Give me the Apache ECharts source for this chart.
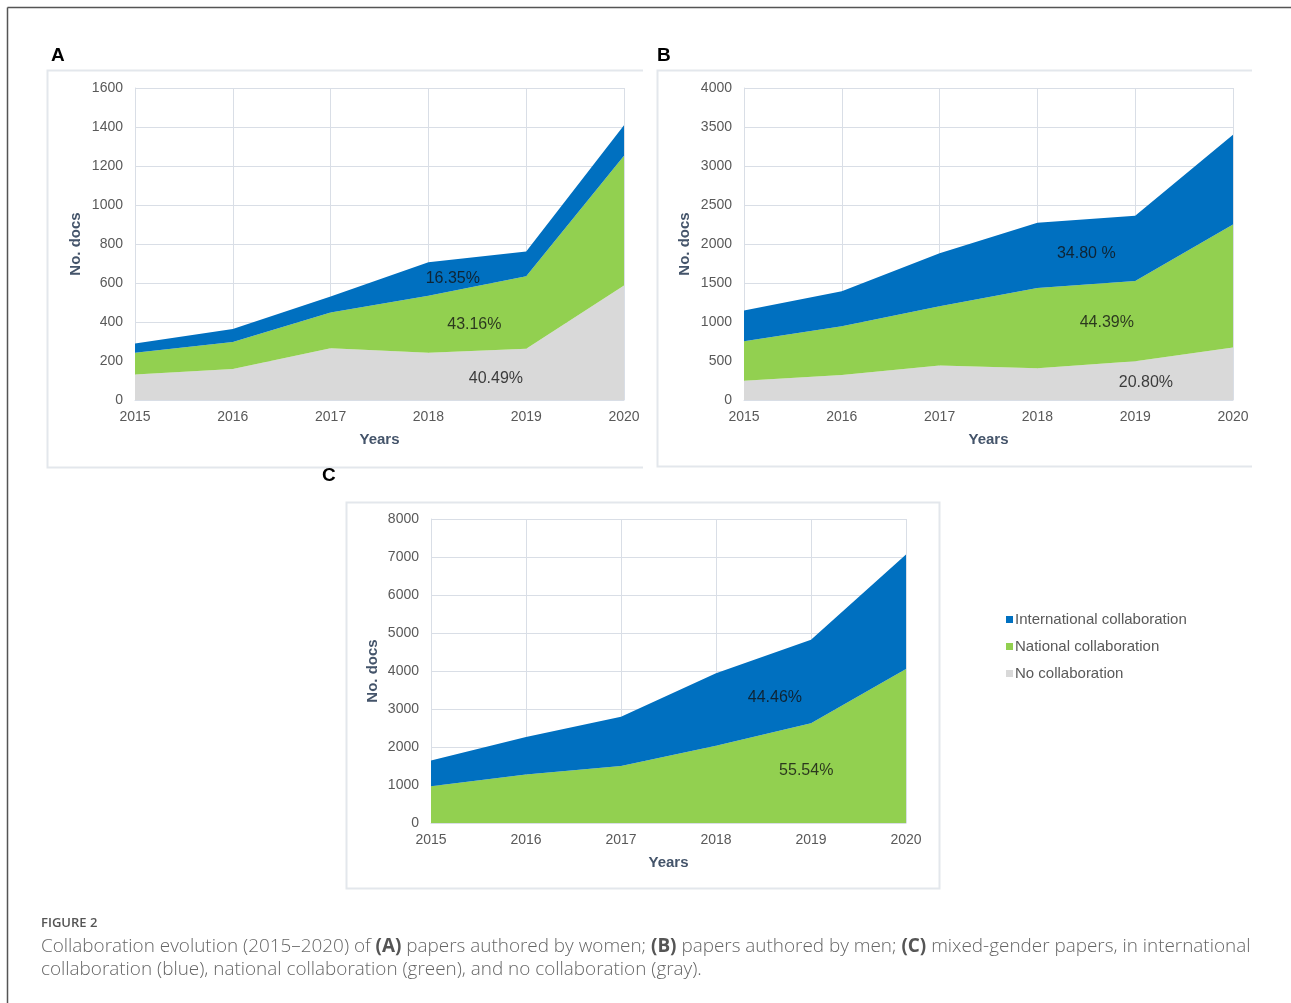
<!DOCTYPE html>
<html>
<head>
<meta charset="utf-8">
<script src="https://cdn.jsdelivr.net/npm/echarts@6/dist/echarts.min.js"></script>
<style>
html,body{margin:0;padding:0;background:#fff;}
#main{width:1291px;height:1003px;}
</style>
</head>
<body>
<div id="main"></div>
<script>
// ---- data ----
const years = ['2015','2016','2017','2018','2019','2020'];
// Panel A: papers authored by women
const aNone = [131, 159, 266, 242, 263, 587];
const aNational = [111, 138, 183, 292, 371, 665];
const aInternational = [48, 67, 82, 173, 128, 157];
// Panel B: papers authored by men
const bNone = [248, 321, 441, 406, 496, 672];
const bNational = [505, 624, 761, 1031, 1031, 1578];
const bInternational = [394, 450, 680, 835, 834, 1151];
// Panel C: mixed-gender papers
const cNational = [969, 1278, 1498, 2035, 2626, 4053];
const cInternational = [679, 986, 1295, 1903, 2194, 3013];
// Share labels [position along years (0 = 2015), value, text]
const aShares = [[3.25, 621, '16.35%'], [3.47, 387, '43.16%'], [3.69, 110, '40.49%']];
const bShares = [[3.50, 1880, '34.80 %'], [3.71, 995, '44.39%'], [4.11, 225, '20.80%']];
const cShares = [[3.62, 3300, '44.46%'], [3.95, 1380, '55.54%']];
const yMaxA = 1600, yStepA = 200;
const yMaxB = 4000, yStepB = 500;
const yMaxC = 8000, yStepC = 1000;

const names = ['International collaboration', 'National collaboration', 'No collaboration'];
const colors = {'International collaboration': '#0070C0', 'National collaboration': '#92D050', 'No collaboration': '#D9D9D9'};

const FONT = 'Liberation Sans, Arial, sans-serif';
const gridColor = '#D9DEE6';
const labelColor = '#595959';
const nameColor = '#44546A';

function xAxis(gi) {
  return {
    type: 'category', gridIndex: gi, data: years, boundaryGap: false,
    axisLine: {show: true, lineStyle: {color: gridColor}},
    axisTick: {show: false},
    axisLabel: {color: labelColor, fontFamily: FONT, fontSize: 14, margin: 10},
    splitLine: {show: true, lineStyle: {color: gridColor, width: 1}},
    name: 'Years', nameLocation: 'middle', nameGap: 32,
    nameTextStyle: {color: nameColor, fontFamily: FONT, fontSize: 15, fontWeight: 'bold'}
  };
}
// hidden value axis used only to place the share labels between years
function xPosAxis(gi) {
  return {type: 'value', gridIndex: gi, min: 0, max: years.length - 1, show: false};
}
function yAxis(gi, max, step, gap) {
  return {
    type: 'value', gridIndex: gi, min: 0, max: max, interval: step,
    axisLine: {show: true, lineStyle: {color: gridColor}},
    axisTick: {show: false},
    axisLabel: {color: labelColor, fontFamily: FONT, fontSize: 14, margin: 12, formatter: v => String(v)},
    splitLine: {show: true, lineStyle: {color: gridColor, width: 1}},
    name: 'No. docs', nameLocation: 'middle', nameGap: gap, nameRotate: 90,
    nameTextStyle: {color: nameColor, fontFamily: FONT, fontSize: 15, fontWeight: 'bold'}
  };
}
function area(name, gi, stack, data) {
  return {
    name: name, type: 'line', xAxisIndex: gi, yAxisIndex: gi, stack: stack,
    data: data, symbol: 'none', smooth: false,
    lineStyle: {width: 0}, areaStyle: {color: colors[name], opacity: 1},
    itemStyle: {color: colors[name]}, silent: true, z: 2
  };
}
function shareLabels(gi, shares) {
  return {
    type: 'scatter', xAxisIndex: 3 + gi, yAxisIndex: gi, symbolSize: 0, silent: true, z: 10,
    data: shares.map(d => ({value: [d[0], d[1]], name: d[2]})),
    label: {show: true, position: 'inside', color: '#111', fontFamily: FONT, fontSize: 16,
      formatter: p => p.name}
  };
}

const series = [
  area('No collaboration', 0, 'A', aNone),
  area('National collaboration', 0, 'A', aNational),
  area('International collaboration', 0, 'A', aInternational),
  area('No collaboration', 1, 'B', bNone),
  area('National collaboration', 1, 'B', bNational),
  area('International collaboration', 1, 'B', bInternational),
  area('National collaboration', 2, 'C', cNational),
  area('International collaboration', 2, 'C', cInternational),
  shareLabels(0, aShares),
  shareLabels(1, bShares),
  shareLabels(2, cShares)
];

const frameColor = '#E3E7EC';
const graphic = [
  // outer figure frame
  {type: 'line', shape: {x1: 7.5, y1: 7.5, x2: 1291, y2: 7.5}, style: {stroke: '#555', lineWidth: 1.5}},
  {type: 'line', shape: {x1: 7.5, y1: 7.5, x2: 7.5, y2: 1003}, style: {stroke: '#555', lineWidth: 1.5}},
  // panel A frame
  {type: 'polyline', shape: {points: [[643, 70.5], [47.5, 70.5], [47.5, 467.5], [643, 467.5]]}, style: {stroke: frameColor, lineWidth: 2, fill: null}},
  // panel B frame
  {type: 'polyline', shape: {points: [[1252, 70.5], [657.5, 70.5], [657.5, 466.5], [1252, 466.5]]}, style: {stroke: frameColor, lineWidth: 2, fill: null}},
  // panel C frame
  {type: 'rect', shape: {x: 346.5, y: 502.5, width: 593, height: 386}, style: {stroke: frameColor, lineWidth: 2, fill: null}},
  // panel letters
  {type: 'text', left: 51, top: 46, style: {text: 'A', font: 'bold 19px ' + FONT, fill: '#000'}},
  {type: 'text', left: 657, top: 46, style: {text: 'B', font: 'bold 19px ' + FONT, fill: '#000'}},
  {type: 'text', left: 322, top: 466, style: {text: 'C', font: 'bold 19px ' + FONT, fill: '#000'}},
  // caption
  {type: 'text', left: 41, top: 917, style: {text: 'FIGURE 2', font: '600 13px "Open Sans", sans-serif', fill: '#555'}},
  {type: 'text', left: 41, top: 935, style: {
    text: 'Collaboration evolution (2015\u20132020) of {b|(A)} papers authored by women; {b|(B)} papers authored by men; {b|(C)} mixed-gender papers, in international\ncollaboration (blue), national collaboration (green), and no collaboration (gray).',
    font: '300 18.9px "Open Sans", sans-serif', fill: '#666', lineHeight: 23,
    rich: {b: {fontWeight: 'bold', fontFamily: 'Open Sans', fontSize: 18.9, fill: '#555'}}
  }}
];

const chart = echarts.init(document.getElementById('main'), null, {renderer: 'canvas'});
chart.setOption({
  animation: false,
  backgroundColor: '#fff',
  grid: [
    {left: 135, top: 88, width: 489, height: 312},
    {left: 744, top: 88, width: 489, height: 312},
    {left: 431, top: 519, width: 475, height: 304}
  ],
  xAxis: [xAxis(0), xAxis(1), xAxis(2), xPosAxis(0), xPosAxis(1), xPosAxis(2)],
  yAxis: [yAxis(0, yMaxA, yStepA, 52), yAxis(1, yMaxB, yStepB, 52), yAxis(2, yMaxC, yStepC, 51)],
  legend: {
    orient: 'vertical', left: 1001, top: 607, itemWidth: 7, itemHeight: 7, itemGap: 12,
    icon: 'rect', data: names,
    textStyle: {color: labelColor, fontFamily: FONT, fontSize: 15, padding: [0, 0, 0, -3]},
    selectedMode: false
  },
  series: series,
  graphic: graphic
});
</script>
</body>
</html>
